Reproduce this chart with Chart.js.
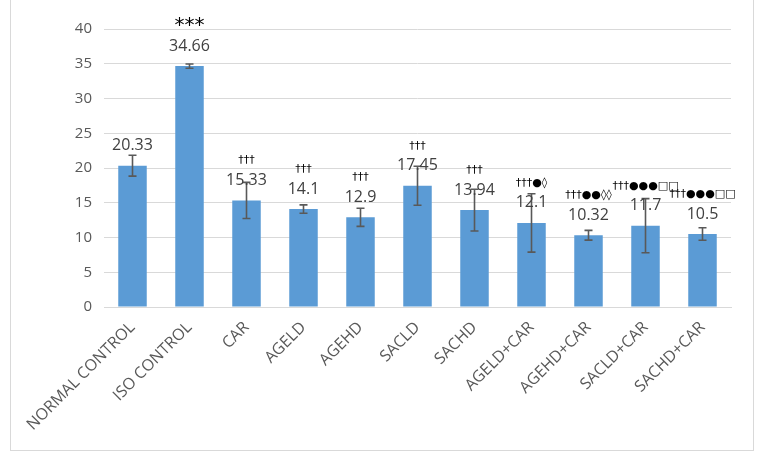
<!DOCTYPE html>
<html>
<head>
<meta charset="utf-8">
<script src="https://cdn.jsdelivr.net/npm/chart.js@4"></script>
<style>
  body { margin: 0; background: #fff; }
</style>
</head>
<body>
<canvas id="bar-chart" width="766" height="461"></canvas>
<script>
const groups = ["NORMAL CONTROL", "ISO CONTROL", "CAR", "AGELD", "AGEHD", "SACLD", "SACHD",
  "AGELD+CAR", "AGEHD+CAR", "SACLD+CAR", "SACHD+CAR"];
const means = [20.33, 34.66, 15.33, 14.1, 12.9, 17.45, 13.94, 12.1, 10.32, 11.7, 10.5];
const errors = [1.5, 0.3, 2.6, 0.6, 1.3, 2.8, 3.0, 4.2, 0.7, 3.9, 0.9];
const marks = ["", "***", "†††", "†††", "†††", "†††", "†††", "†††●◊", "†††●●◊◊", "†††●●●□□", "†††●●●□□"];
const yTicks = [0, 5, 10, 15, 20, 25, 30, 35, 40];

// error bars, value labels and significance marks
const extras = {
  id: 'extras',
  beforeDraw(chart) {
    const c = chart.ctx;
    c.save();
    c.strokeStyle = '#d9d9d9';
    c.lineWidth = 1;
    c.strokeRect(10.5, -1, 743, 451.5);
    c.restore();
  },
  afterDatasetsDraw(chart) {
    const c = chart.ctx;
    const y = chart.scales.y;
    const bars = chart.getDatasetMeta(0).data;
    c.save();
    bars.forEach((b, i) => {
      const top = y.getPixelForValue(means[i] + errors[i]);
      const bot = y.getPixelForValue(means[i] - errors[i]);
      c.strokeStyle = '#595959';
      c.lineWidth = 1.6;
      c.beginPath();
      c.moveTo(b.x, top); c.lineTo(b.x, bot);
      c.moveTo(b.x - 4, top); c.lineTo(b.x + 4, top);
      c.moveTo(b.x - 4, bot); c.lineTo(b.x + 4, bot);
      c.stroke();

      c.fillStyle = '#404040';
      c.textAlign = 'center';
      c.textBaseline = 'middle';
      c.font = '16px "Open Sans", sans-serif';
      c.fillText(String(means[i]), b.x, b.y - 20);

      if (marks[i]) {
        c.fillStyle = '#000';
        if (marks[i] === '***') {
          c.font = '20px "DejaVu Sans", sans-serif';
          c.fillText(marks[i], b.x, b.y - 40);
        } else {
          c.font = '11px "DejaVu Sans", sans-serif';
          c.fillText(marks[i], b.x, b.y - 40);
        }
      }
    });
    c.restore();
  }
};

new Chart(document.getElementById('bar-chart'), {
  type: 'bar',
  data: {
    labels: groups,
    datasets: [{
      data: means,
      backgroundColor: '#5b9bd5',
      categoryPercentage: 1,
      barPercentage: 0.5
    }]
  },
  options: {
    responsive: false,
    animation: false,
    layout: { padding: { left: 10, right: 35, top: 29, bottom: 10 } },
    plugins: {
      legend: { display: false },
      tooltip: { enabled: false }
    },
    scales: {
      y: {
        min: 0,
        max: 40,
        afterBuildTicks: s => { s.ticks = yTicks.map(v => ({ value: v })); },
        afterFit: s => { s.width = 94; },
        border: { display: false },
        grid: { color: '#d9d9d9', drawTicks: false },
        ticks: { color: '#595959', padding: 12, font: { size: 15, family: '"Open Sans", sans-serif' } }
      },
      x: {
        afterFit: s => { s.height = 144; },
        border: { color: '#d9d9d9' },
        grid: { display: false },
        ticks: {
          color: '#595959',
          minRotation: 45,
          maxRotation: 45,
          autoSkip: false,
          font: { size: 16, family: '"Open Sans", sans-serif' }
        }
      }
    }
  },
  plugins: [extras]
});
</script>
</body>
</html>
